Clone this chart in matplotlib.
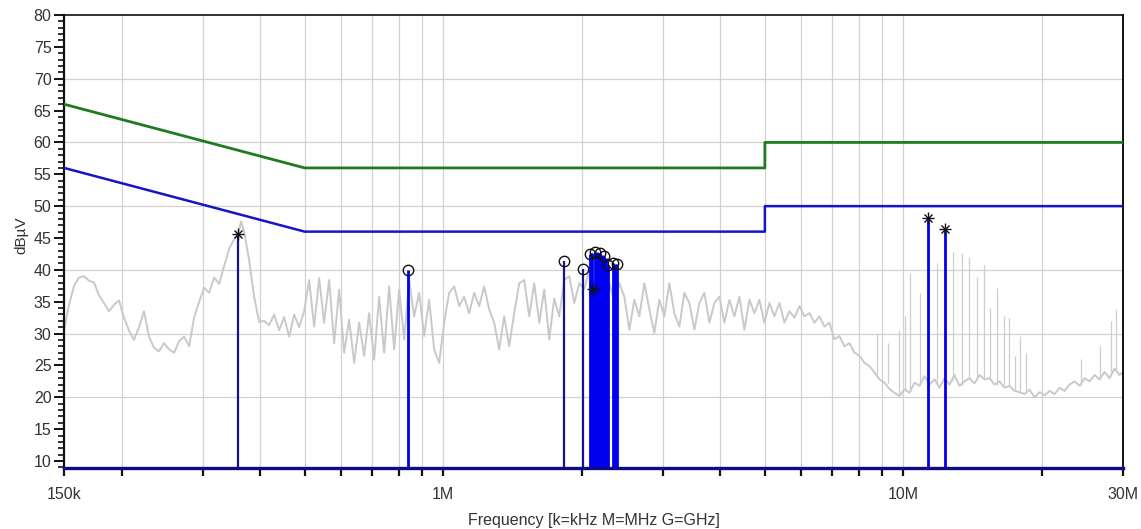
import numpy as np
import matplotlib
matplotlib.use("Agg")
import matplotlib.pyplot as plt
from matplotlib.ticker import FixedLocator, NullFormatter, MultipleLocator, FixedFormatter

plt.rcParams['font.family'] = ['Liberation Sans', 'DejaVu Sans']

# ---------------- data ----------------
# limit lines (CISPR class B style)
limit_freq_mhz = [0.15, 0.5, 5.0, 5.0, 30.0]
qp_limit_dbuv = [66, 56, 56, 60, 60]
av_limit_dbuv = [56, 46, 46, 50, 50]

# pre-scan trace (kHz, dBuV)
scan_freq_khz = [
    150, 153.8, 157.7, 161.7, 165.8, 170.0, 174.3, 178.7, 183.2, 187.9,
    192.6, 197.5, 202.5, 207.6, 212.9, 218.3, 223.8, 229.5, 235.3, 241.2,
    247.3, 253.8, 260.2, 266.8, 273.6, 280.5, 287.6, 294.9, 302.4, 310.0,
    317.9, 325.9, 334.2, 342.7, 351.3, 360.2, 363.8, 369.4, 378.7, 388.3, 398.2,
    408.3, 418.6, 429.2, 440.1, 451.2, 462.7, 474.4, 486.4, 498.7, 511.4,
    524.3, 537.6, 551.2, 565.2, 579.5, 594.2, 609.2, 624.7, 640.5, 656.7,
    673.4, 690.4, 707.9, 725.8, 744.2, 763.1, 782.4, 802.2, 822.6, 843.4,
    864.8, 886.7, 909.2, 932.2, 955.8, 980.0, 1004.9, 1030.3, 1056.5, 1083.2,
    1110.7, 1138.9, 1167.7, 1197.3, 1227.6, 1258.7, 1290.6, 1323.3, 1356.8, 1391.2,
    1426.5, 1462.9, 1500, 1538, 1577, 1617, 1658, 1700, 1743, 1787,
    1832, 1879, 1927, 1976, 2026, 2077, 2130, 2184, 2239, 2296,
    2354, 2414, 2475, 2538, 2602, 2668, 2736, 2805, 2876, 2949,
    3024, 3100, 3179, 3260, 3342, 3427, 3514, 3603, 3694, 3788,
    3884, 3982, 4083, 4187, 4293, 4401, 4513, 4628, 4745, 4865,
    4988, 5115, 5244, 5377, 5514, 5653, 5797, 5944, 6094, 6249,
    6407, 6569, 6736, 6907, 7082, 7261, 7445, 7634, 7827, 8026,
    8229, 8438, 8651, 8871, 9096, 9326, 9562, 9805, 10053, 10308,
    10569, 10837, 11112, 11393, 11682, 11978, 12282, 12593, 12912, 13240,
    13575, 13919, 14272, 14634, 15005, 15385, 15775, 16175, 16585, 17005,
    17436, 17878, 18331, 18796, 19272, 19761, 20262, 20775, 21302, 21842,
    22395, 22963, 23545, 24142, 24754, 25381, 26025, 26684, 27361, 28054,
    28765, 29494, 30000,
]
scan_level_dbuv = [
    30.5, 34.5, 37.5, 38.8, 39.0, 38.3, 38.0, 36.0, 34.8, 33.5,
    34.5, 35.2, 32.5, 30.5, 29.0, 31.0, 33.5, 29.5, 27.8, 27.2,
    28.5, 27.5, 27.0, 28.8, 29.5, 28.0, 32.5, 35.0, 37.2, 36.4,
    38.8, 37.8, 40.6, 43.3, 44.8, 46.2, 47.6, 46.0, 41.5, 35.8, 31.8,
    32.0, 31.3, 33.0, 30.5, 32.6, 29.5, 33.0, 31.0, 33.5, 38.4,
    31.1, 38.7, 31.7, 38.4, 28.5, 36.9, 27.0, 32.2, 25.4, 31.7,
    26.5, 33.2, 25.9, 35.8, 27.0, 37.4, 27.5, 36.9, 29.1, 38.4,
    32.7, 36.4, 29.6, 35.3, 27.5, 25.4, 31.7, 36.4, 37.4, 34.3,
    35.8, 33.2, 36.4, 34.3, 37.4, 33.8, 31.7, 27.5, 32.7, 28.0,
    33.2, 37.9, 38.4, 32.7, 37.9, 31.7, 36.9, 29.1, 35.5, 32.7,
    38.4, 39.0, 34.8, 37.9, 37.0, 40.0, 38.0, 39.0, 36.0, 38.0,
    35.0, 37.9, 35.8, 30.6, 35.3, 32.7, 37.9, 33.8, 30.1, 35.3,
    32.7, 37.9, 33.2, 31.1, 36.4, 34.8, 30.6, 34.8, 36.4, 31.7,
    34.8, 35.8, 31.7, 35.3, 32.7, 35.8, 30.6, 35.3, 33.2, 35.3,
    31.7, 34.8, 32.7, 34.8, 31.7, 33.5, 32.5, 34.3, 32.7, 33.2,
    31.7, 32.7, 31.1, 31.7, 29.1, 29.6, 28.0, 28.5, 27.0, 26.5,
    25.4, 24.9, 23.9, 22.8, 22.3, 21.3, 20.7, 20.2, 21.3, 20.7,
    22.3, 21.8, 23.3, 22.0, 22.8, 21.5, 23.0, 22.0, 23.5, 21.8,
    22.5, 23.0, 22.2, 23.5, 22.8, 23.0, 22.0, 22.5, 21.5, 21.8,
    21.0, 20.8, 20.5, 21.2, 20.0, 20.8, 20.3, 21.0, 20.5, 21.5,
    21.0, 22.0, 22.5, 21.8, 23.0, 22.5, 23.5, 22.8, 24.0, 23.0,
    24.5, 23.5, 24.0,
]

# narrow spikes in the trace above ~9 MHz (MHz, top dBuV, foot dBuV)
spike_freq_mhz = [8.78, 9.27, 9.80, 10.10, 10.31, 10.84, 11.85, 12.84, 13.43, 13.91,
                  14.48, 14.93, 15.46, 16.01, 16.50, 17.00, 17.52, 17.96, 18.42,
                  24.3, 26.8, 28.19, 28.9]
spike_level_dbuv = [30.0, 28.5, 30.5, 32.7, 39.5, 36.4, 41.0, 42.8, 42.7, 42.0,
                    38.8, 40.8, 34.0, 37.2, 32.7, 32.5, 26.5, 29.6, 27.0,
                    26.0, 28.0, 32.0, 33.8]
spike_foot_dbuv = [23.5, 22.3, 20.5, 21.0, 21.0, 22.0, 22.0, 22.5, 22.0, 23.0,
                   23.0, 23.0, 23.0, 22.0, 22.0, 22.0, 21.0, 21.0, 21.0,
                   22.0, 23.0, 24.0, 24.0]

# final measurement peaks (MHz, dBuV)
peak_freq_mhz = [0.358, 0.839, 1.826, 2.008,
                 2.087, 2.098, 2.108, 2.118, 2.140, 2.161, 2.172, 2.194, 2.216,
                 2.238, 2.261, 2.283, 2.342, 2.366, 2.389,
                 11.33, 12.34]
peak_level_dbuv = [45.6, 40.0, 41.4, 40.2,
                   42.5, 42.6, 42.7, 37.0, 42.8, 42.8, 42.7, 42.6, 42.4,
                   42.2, 41.8, 40.8, 41.0, 40.9, 40.9,
                   48.2, 46.4]
# styles (kept apart from the values)
peak_marker = ['*', 'o', 'o', 'o',
               'o', '', '', '*', 'o', '', '', 'o', '',
               'o', '', 'o', 'o', '', 'o',
               '*', '*']
peak_color = ['#14148c', '#0000f0', '#14148c', '#14148c'] + ['#0000f0'] * 17

# ---------------- figure ----------------
fig = plt.figure(figsize=(11.41, 5.29), dpi=100)
fig.patch.set_facecolor('white')
ax = fig.add_axes([64 / 1141, 1 - 468 / 529, (1123 - 64) / 1141, (468 - 15) / 529])
ax.set_xscale('log')
ax.set_xlim(0.15, 30)
ax.set_ylim(8.9, 80)

# grid
xgrid = [m * 10.0 ** e for e in (-1, 0, 1) for m in range(1, 10)]
xgrid = [v for v in xgrid if 0.15 < v < 30]
for v in xgrid:
    ax.axvline(v, color='#d2d2d2', lw=0.9, zorder=0)
for v in range(20, 80, 10):
    ax.axhline(v, color='#d2d2d2', lw=0.9, zorder=0)

# trace
ax.plot(np.array(scan_freq_khz) / 1000.0, scan_level_dbuv, color='#c9c9c9', lw=1.4, zorder=1)
ax.vlines(spike_freq_mhz, spike_foot_dbuv, spike_level_dbuv, color='#cdcdcd', lw=0.9, zorder=1)

# limits
ax.plot(limit_freq_mhz, qp_limit_dbuv, color='#217a21', lw=2.0, zorder=3)
ax.plot(limit_freq_mhz, av_limit_dbuv, color='#1414c8', lw=1.8, zorder=3)

# stems
ybot = 8.9
for f, lv, c in zip(peak_freq_mhz, peak_level_dbuv, peak_color):
    ax.plot([f, f], [ybot, lv], color=c, lw=2.0 if c == '#0000f0' else 1.6,
            solid_capstyle='butt', zorder=4)
for f, lv, m in zip(peak_freq_mhz, peak_level_dbuv, peak_marker):
    if m == 'o':
        ax.plot([f], [lv], marker='o', ms=7.5, mfc='none', mec='#111111', mew=1.0, zorder=6)
    elif m == '*':
        ax.plot([f], [lv], marker='+', ms=8, mec='#111111', mew=1.0, zorder=6)
        ax.plot([f], [lv], marker='x', ms=6, mec='#111111', mew=1.0, zorder=6)

# spines
for s in ('left', 'top', 'right'):
    ax.spines[s].set_color('#111111')
ax.spines['left'].set_linewidth(1.6)
ax.spines['top'].set_linewidth(1.2)
ax.spines['right'].set_linewidth(1.4)
ax.spines['bottom'].set_color('#0a0a8a')
ax.spines['bottom'].set_linewidth(2.4)
ax.spines['bottom'].set_zorder(5)

# ticks
ax.xaxis.set_major_locator(FixedLocator([0.15, 1, 10, 30]))
ax.xaxis.set_major_formatter(FixedFormatter(['150k', '1M', '10M', '30M']))
ax.xaxis.set_minor_locator(FixedLocator(xgrid))
ax.xaxis.set_minor_formatter(NullFormatter())
ax.tick_params(axis='x', which='both', direction='out', length=6, width=1.6,
               colors='#111111', labelsize=11.5, pad=8)
ax.yaxis.set_major_locator(MultipleLocator(5))
ax.yaxis.set_minor_locator(MultipleLocator(1))
ax.tick_params(axis='y', which='major', direction='out', length=7, width=1.4,
               colors='#111111', labelsize=11.5, pad=2)
ax.tick_params(axis='y', which='minor', direction='out', length=4, width=1.2, colors='#111111')
for lab in ax.get_xticklabels() + ax.get_yticklabels():
    lab.set_color('#333333')

ax.set_xlabel('Frequency [k=kHz M=MHz G=GHz]', fontsize=11.5, color='#333333')
ax.xaxis.set_label_coords(0.5, -0.1)
ax.set_ylabel('dBµV', fontsize=11, color='#333333')
ax.yaxis.set_label_coords(-0.0335, 0.514)

fig.savefig('out.png', dpi=100, facecolor='white')
